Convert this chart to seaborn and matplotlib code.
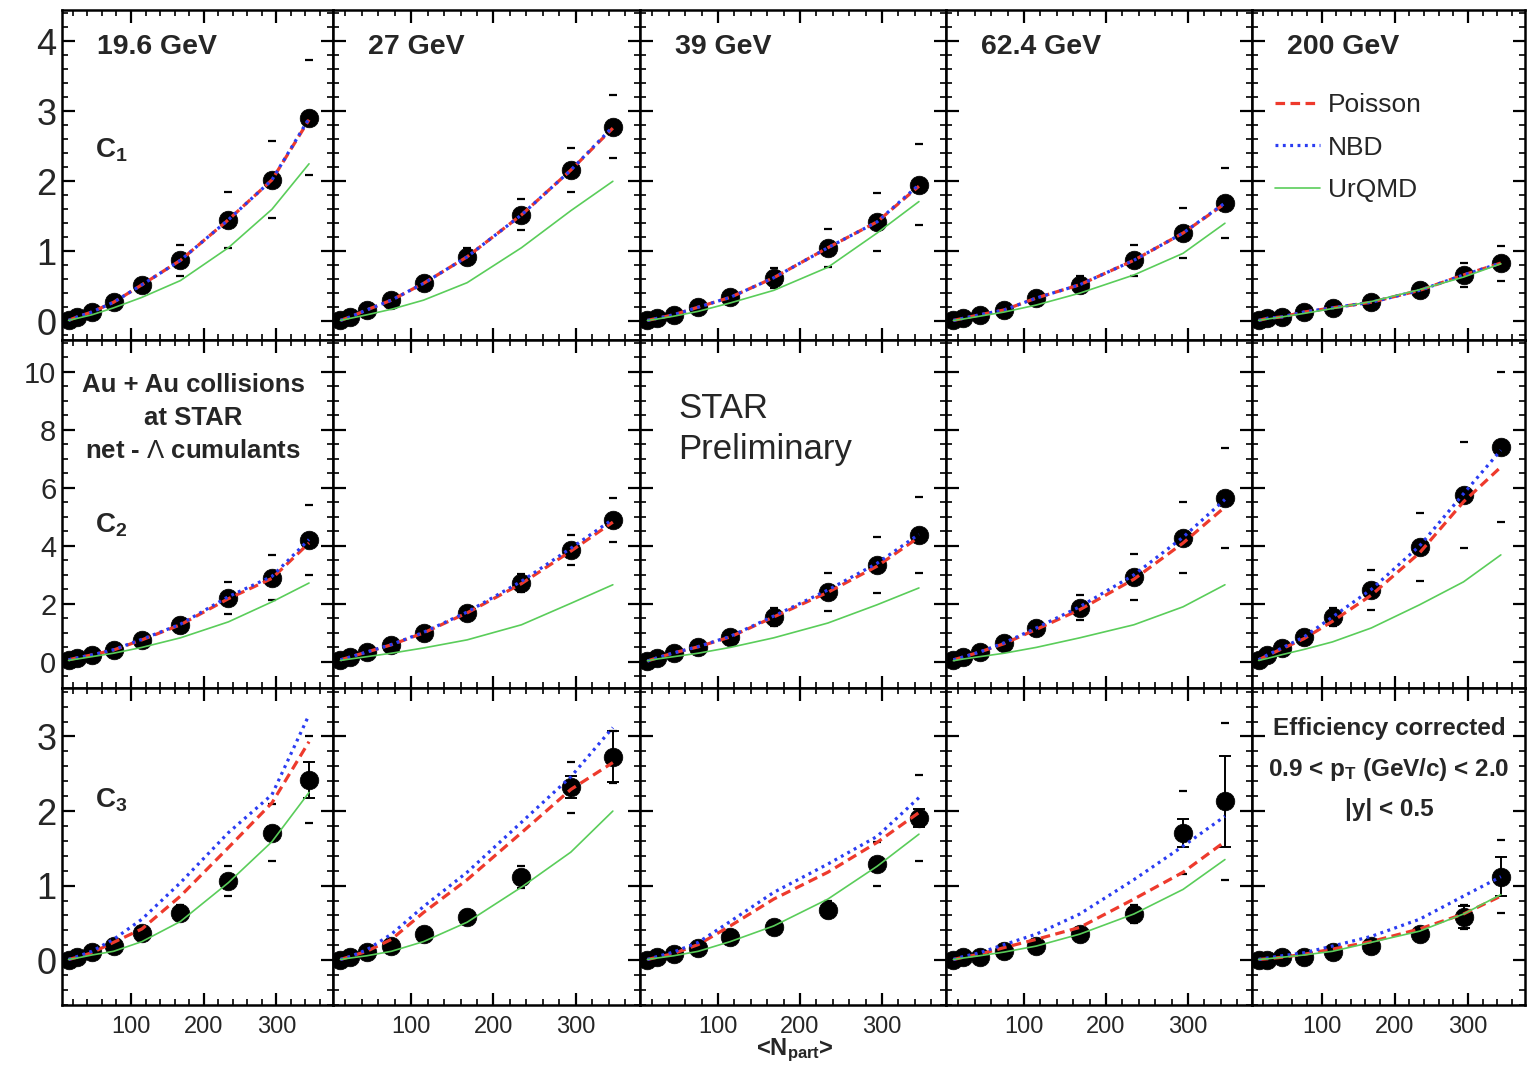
import matplotlib
matplotlib.use("Agg")
import numpy as np
import pandas as pd
import matplotlib.pyplot as plt
import seaborn as sns
from matplotlib.ticker import MultipleLocator
from matplotlib.lines import Line2D

# ---------------- data ----------------
ENERGIES = ["19.6 GeV", "27 GeV", "39 GeV", "62.4 GeV", "200 GeV"]
NPART = [14, 26, 46, 76, 115, 168, 234, 294, 345]

# C1
c1_data = [
    [0.01, 0.06, 0.13, 0.27, 0.52, 0.87, 1.45, 2.02, 2.91],
    [0.01, 0.06, 0.16, 0.30, 0.54, 0.92, 1.52, 2.16, 2.78],
    [0.01, 0.04, 0.09, 0.20, 0.34, 0.62, 1.05, 1.42, 1.95],
    [0.01, 0.04, 0.09, 0.16, 0.33, 0.52, 0.87, 1.26, 1.69],
    [0.01, 0.04, 0.06, 0.13, 0.19, 0.27, 0.44, 0.66, 0.83],
]
c1_sys = [
    [0, 0, 0, 0.03, 0.08, 0.22, 0.40, 0.55, 0.82],
    [0, 0, 0, 0.03, 0.06, 0.12, 0.22, 0.32, 0.45],
    [0, 0, 0, 0.03, 0.06, 0.14, 0.27, 0.41, 0.58],
    [0, 0, 0, 0.03, 0.05, 0.12, 0.22, 0.36, 0.50],
    [0, 0, 0, 0.02, 0.03, 0.05, 0.10, 0.17, 0.25],
]
c1_poisson = [
    [0.01, 0.06, 0.13, 0.27, 0.52, 0.87, 1.45, 2.02, 2.88],
    [0.01, 0.06, 0.16, 0.30, 0.54, 0.92, 1.52, 2.16, 2.76],
    [0.01, 0.04, 0.09, 0.20, 0.34, 0.62, 1.05, 1.42, 1.93],
    [0.01, 0.04, 0.09, 0.16, 0.33, 0.52, 0.87, 1.26, 1.68],
    [0.01, 0.04, 0.06, 0.13, 0.19, 0.27, 0.44, 0.66, 0.83],
]
c1_nbd = [
    [0.01, 0.06, 0.13, 0.27, 0.52, 0.87, 1.45, 2.02, 2.90],
    [0.01, 0.06, 0.16, 0.30, 0.54, 0.92, 1.52, 2.16, 2.78],
    [0.01, 0.04, 0.09, 0.20, 0.34, 0.62, 1.05, 1.42, 1.95],
    [0.01, 0.04, 0.09, 0.16, 0.33, 0.52, 0.87, 1.26, 1.69],
    [0.01, 0.04, 0.06, 0.13, 0.19, 0.27, 0.44, 0.66, 0.83],
]
c1_urqmd = [
    [0.01, 0.04, 0.09, 0.19, 0.34, 0.58, 1.05, 1.60, 2.25],
    [0.01, 0.04, 0.09, 0.17, 0.30, 0.55, 1.05, 1.58, 2.00],
    [0.01, 0.03, 0.07, 0.14, 0.26, 0.44, 0.77, 1.26, 1.71],
    [0.01, 0.03, 0.07, 0.13, 0.23, 0.40, 0.66, 0.97, 1.40],
    [0.01, 0.03, 0.06, 0.11, 0.18, 0.28, 0.45, 0.63, 0.82],
]

# C2
c2_data = [
    [0.07, 0.14, 0.24, 0.41, 0.76, 1.28, 2.20, 2.90, 4.20],
    [0.07, 0.17, 0.34, 0.59, 1.00, 1.69, 2.72, 3.86, 4.90],
    [0.02, 0.14, 0.31, 0.52, 0.86, 1.55, 2.41, 3.34, 4.38],
    [0.07, 0.17, 0.34, 0.66, 1.17, 1.86, 2.93, 4.28, 5.66],
    [0.07, 0.24, 0.48, 0.86, 1.55, 2.48, 3.97, 5.76, 7.41],
]
c2_sys = [
    [0, 0, 0, 0.05, 0.10, 0.25, 0.55, 0.78, 1.20],
    [0, 0, 0, 0.05, 0.10, 0.20, 0.30, 0.52, 0.76],
    [0, 0, 0, 0.05, 0.10, 0.30, 0.64, 0.95, 1.31],
    [0, 0, 0, 0.05, 0.15, 0.43, 0.79, 1.23, 1.73],
    [0, 0, 0, 0.10, 0.30, 0.69, 1.17, 1.83, 2.59],
]
c2_poisson = [
    [0.07, 0.14, 0.24, 0.41, 0.76, 1.28, 2.18, 2.88, 4.10],
    [0.07, 0.17, 0.34, 0.59, 1.00, 1.69, 2.70, 3.82, 4.82],
    [0.03, 0.14, 0.31, 0.52, 0.86, 1.55, 2.40, 3.30, 4.30],
    [0.07, 0.17, 0.34, 0.63, 1.12, 1.80, 2.85, 4.10, 5.34],
    [0.07, 0.22, 0.45, 0.80, 1.40, 2.30, 3.76, 5.52, 6.72],
]
c2_nbd = [
    [0.07, 0.14, 0.24, 0.42, 0.78, 1.30, 2.25, 2.95, 4.22],
    [0.07, 0.17, 0.34, 0.60, 1.02, 1.72, 2.78, 3.92, 4.92],
    [0.03, 0.14, 0.31, 0.53, 0.88, 1.58, 2.48, 3.40, 4.40],
    [0.07, 0.17, 0.34, 0.66, 1.17, 1.90, 3.00, 4.30, 5.60],
    [0.07, 0.24, 0.48, 0.86, 1.55, 2.50, 4.00, 5.80, 7.30],
]
c2_urqmd = [
    [0.05, 0.10, 0.18, 0.30, 0.50, 0.83, 1.38, 2.07, 2.72],
    [0.05, 0.10, 0.18, 0.30, 0.48, 0.76, 1.28, 2.02, 2.66],
    [0.04, 0.10, 0.18, 0.30, 0.50, 0.83, 1.34, 1.97, 2.55],
    [0.04, 0.10, 0.18, 0.30, 0.50, 0.83, 1.28, 1.90, 2.66],
    [0.05, 0.12, 0.25, 0.43, 0.69, 1.17, 1.97, 2.76, 3.69],
]

# C3
c3_data = [
    [0.01, 0.04, 0.11, 0.19, 0.37, 0.64, 1.06, 1.71, 2.42],
    [0.01, 0.04, 0.11, 0.19, 0.35, 0.58, 1.12, 2.32, 2.73],
    [0.01, 0.04, 0.08, 0.17, 0.31, 0.44, 0.68, 1.29, 1.91],
    [0.01, 0.04, 0.05, 0.12, 0.19, 0.35, 0.62, 1.71, 2.13],
    [0.01, 0.01, 0.04, 0.05, 0.11, 0.19, 0.35, 0.58, 1.12],
]
c3_stat = [
    [0.01, 0.01, 0.01, 0.02, 0.02, 0.03, 0.05, 0.08, 0.24],
    [0.01, 0.01, 0.01, 0.02, 0.02, 0.03, 0.06, 0.15, 0.34],
    [0.01, 0.01, 0.01, 0.02, 0.02, 0.03, 0.05, 0.08, 0.12],
    [0.01, 0.01, 0.01, 0.02, 0.02, 0.04, 0.08, 0.19, 0.61],
    [0.01, 0.01, 0.01, 0.02, 0.02, 0.04, 0.06, 0.15, 0.26],
]
c3_sys = [
    [0, 0, 0, 0.02, 0.05, 0.10, 0.20, 0.38, 0.58],
    [0, 0, 0, 0.02, 0.05, 0.10, 0.15, 0.34, 0.35],
    [0, 0, 0, 0.02, 0.04, 0.08, 0.12, 0.30, 0.58],
    [0, 0, 0, 0.02, 0.04, 0.08, 0.12, 0.56, 1.05],
    [0, 0, 0, 0.02, 0.03, 0.05, 0.08, 0.16, 0.49],
]
c3_poisson = [
    [0.01, 0.04, 0.10, 0.24, 0.42, 0.86, 1.51, 2.11, 2.93],
    [0.01, 0.05, 0.12, 0.28, 0.64, 1.08, 1.71, 2.29, 2.65],
    [0.01, 0.04, 0.09, 0.21, 0.46, 0.82, 1.18, 1.58, 1.98],
    [0.01, 0.04, 0.08, 0.17, 0.28, 0.44, 0.82, 1.18, 1.59],
    [0.01, 0.02, 0.04, 0.08, 0.15, 0.25, 0.42, 0.62, 0.86],
]
c3_nbd = [
    [0.01, 0.05, 0.12, 0.28, 0.55, 1.04, 1.71, 2.22, 3.29],
    [0.01, 0.05, 0.14, 0.35, 0.72, 1.18, 1.85, 2.46, 3.12],
    [0.01, 0.05, 0.11, 0.24, 0.52, 0.91, 1.29, 1.66, 2.18],
    [0.01, 0.05, 0.10, 0.21, 0.35, 0.62, 1.08, 1.53, 1.93],
    [0.01, 0.03, 0.06, 0.10, 0.19, 0.32, 0.55, 0.86, 1.12],
]
c3_urqmd = [
    [0.01, 0.03, 0.07, 0.12, 0.25, 0.52, 1.04, 1.59, 2.25],
    [0.01, 0.03, 0.06, 0.12, 0.25, 0.51, 0.98, 1.45, 2.00],
    [0.01, 0.03, 0.06, 0.12, 0.25, 0.46, 0.82, 1.26, 1.69],
    [0.01, 0.03, 0.06, 0.11, 0.19, 0.35, 0.62, 0.95, 1.35],
    [0.01, 0.02, 0.04, 0.07, 0.12, 0.24, 0.39, 0.62, 0.88],
]

ROW_LABELS = [r"$\mathbf{C}_{\mathbf{1}}$", r"$\mathbf{C}_{\mathbf{2}}$", r"$\mathbf{C}_{\mathbf{3}}$"]
MODEL_NAMES = ["Poisson", "NBD", "UrQMD"]

# ---------------- style ----------------
sns.set_theme(style="ticks")
plt.rcParams["font.family"] = ["Liberation Sans", "DejaVu Sans"]
plt.rcParams["mathtext.fontset"] = "custom"
plt.rcParams["mathtext.rm"] = "Liberation Sans"
plt.rcParams["mathtext.it"] = "Liberation Sans:italic"
plt.rcParams["mathtext.bf"] = "Liberation Sans:bold"

RED = "#ee3a2c"
BLUE = "#2a3cf2"
GREEN = "#5acd5a"
STYLES = {
    "Poisson": dict(color=RED, lw=2.3, linestyle=(0, (3.0, 1.7))),
    "NBD": dict(color=BLUE, lw=2.3, linestyle=(0, (0.9, 1.4))),
    "UrQMD": dict(color=GREEN, lw=1.2, linestyle="-"),
}

W_PX, H_PX = 1528, 1072
fig = plt.figure(figsize=(W_PX / 100, H_PX / 100), dpi=100)
gs = fig.add_gridspec(
    3, 5,
    width_ratios=[271, 307, 306, 306, 273],
    height_ratios=[330, 348, 317],
    left=62 / W_PX, right=1525 / W_PX,
    top=1 - 10 / H_PX, bottom=1 - 1005 / H_PX,
    wspace=0, hspace=0,
)

rows = [
    (c1_data, None, c1_sys, c1_poisson, c1_nbd, c1_urqmd),
    (c2_data, None, c2_sys, c2_poisson, c2_nbd, c2_urqmd),
    (c3_data, c3_stat, c3_sys, c3_poisson, c3_nbd, c3_urqmd),
]
YLIMS = [(-0.27, 4.45), (-0.9, 11.1), (-0.6, 3.65)]
YMAJ = [1, 2, 1]
YMIN = [0.2, 0.5, 0.2]
YFS = [26, 21, 26]
CLABEL_DY = [140, 185, 112]


def place(ax, dx_px, dy_px, s, **kw):
    ax.annotate(s, xy=(0, 1), xycoords="axes fraction",
                xytext=(dx_px * 0.72, -dy_px * 0.72), textcoords="offset points", **kw)


axes = np.empty((3, 5), dtype=object)
for r in range(3):
    data, stat, sys_, poi, nbd, urq = rows[r]
    for c in range(5):
        ax = fig.add_subplot(gs[r, c])
        axes[r, c] = ax
        # data points
        sns.scatterplot(x=NPART, y=data[c], ax=ax, color="black", s=180,
                        edgecolor="black", linewidth=0.5, zorder=1.5, legend=False)
        # systematic brackets
        ax.errorbar(NPART, data[c], yerr=sys_[c], fmt="none", ecolor="black",
                    elinewidth=0, capsize=3.2, capthick=1.6, zorder=1.4)
        if stat is not None:
            ax.errorbar(NPART, data[c], yerr=stat[c], fmt="none", ecolor="black",
                        elinewidth=1.4, capsize=4, capthick=1.4, zorder=1.6)
        # model curves
        for name, vals in zip(MODEL_NAMES, (poi[c], nbd[c], urq[c])):
            sns.lineplot(x=NPART, y=vals, ax=ax, zorder=3, **STYLES[name])
        ax.set_xlim(5, 378)
        ax.set_ylim(*YLIMS[r])
        ax.set_xlabel("")
        ax.set_ylabel("")
        ax.xaxis.set_major_locator(MultipleLocator(100))
        ax.xaxis.set_minor_locator(MultipleLocator(20))
        ax.yaxis.set_major_locator(MultipleLocator(YMAJ[r]))
        ax.yaxis.set_minor_locator(MultipleLocator(YMIN[r]))
        ax.tick_params(which="both", direction="in", top=True, right=True,
                       bottom=True, left=True, color="black")
        ax.tick_params(which="major", length=9, width=1.6)
        ax.tick_params(which="minor", length=4.5, width=1.2)
        ax.tick_params(axis="y", labelsize=YFS[r], pad=4)
        ax.tick_params(axis="x", labelsize=17, pad=8)
        for sp in ax.spines.values():
            sp.set_color("black")
            sp.set_linewidth(1.8)
        if c != 0:
            ax.tick_params(axis="y", labelleft=False)
        if r != 2:
            ax.tick_params(axis="x", labelbottom=False)
        if r == 0:
            place(ax, 35, 37, ENERGIES[c], fontsize=20.5, fontweight="bold", va="center", ha="left")
        if c == 0:
            place(ax, 33, CLABEL_DY[r], ROW_LABELS[r], fontsize=20, va="center", ha="left")

# legend in 200 GeV C1 panel
ax = axes[0, 4]
handles = [Line2D([], [], **STYLES[n]) for n in MODEL_NAMES]
ax.legend(handles, MODEL_NAMES, loc="upper left", bbox_to_anchor=(0.084, 0.748),
          frameon=False, fontsize=19, borderpad=0, borderaxespad=0,
          handlelength=1.7, handletextpad=0.3, labelspacing=0.7)

# text blocks
place(axes[1, 0], 131, 78, "Au + Au collisions\nat STAR\nnet - $\\mathit{\\Lambda}$ cumulants",
      fontsize=18.5, fontweight="bold", ha="center", va="center", multialignment="center",
      linespacing=1.5)
place(axes[1, 2], 38, 89, "STAR\nPreliminary", fontsize=25, ha="left", va="center", linespacing=1.32)
place(axes[2, 4], 137, 81,
      "Efficiency corrected\n0.9 < p$_{\\mathbf{T}}$ (GeV/c) < 2.0\n|y| < 0.5",
      fontsize=17.5, fontweight="bold", ha="center", va="center", multialignment="center",
      linespacing=1.8)

fig.text(795 / W_PX, 1 - 1050 / H_PX, r"<N$_{\mathbf{part}}$>", fontsize=17,
         fontweight="bold", ha="center", va="center")

fig.savefig("out.png", dpi=100, facecolor="white")
